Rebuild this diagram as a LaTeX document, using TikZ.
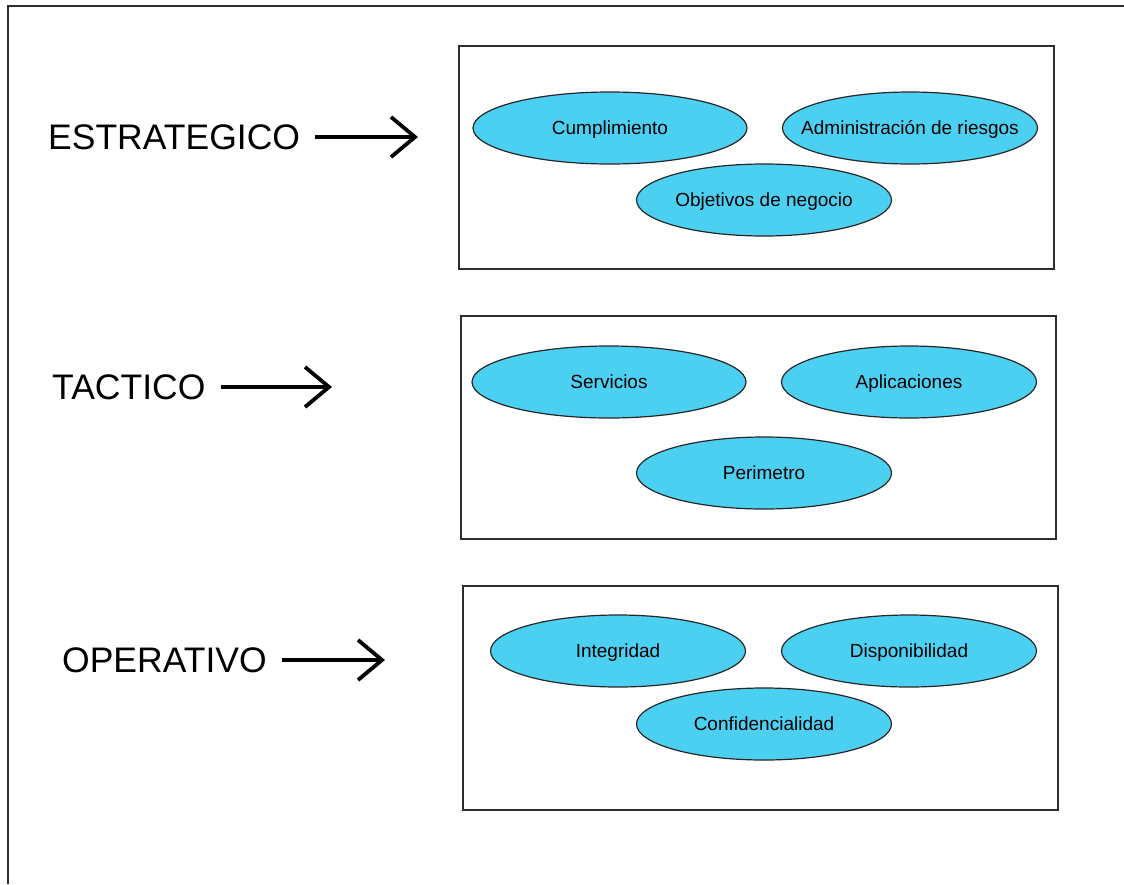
\documentclass[tikz,border=0pt]{standalone}
\usepackage{fontspec}
\setmainfont{Liberation Sans}
\usetikzlibrary{arrows.meta,shapes.geometric}
\definecolor{frameline}{RGB}{45,45,45}
\definecolor{ovalfill}{RGB}{76,208,242}
\tikzset{
  levelbox/.style={draw=frameline, line width=1.6pt},
  oval/.style={ellipse, draw=black!85, line width=1.2pt, fill=ovalfill,
    minimum width=#1, minimum height=72pt, inner sep=-40pt,
    text height=13.5pt, text depth=0pt, font=\fontsize{19}{22}\selectfont},
  oval/.default=255pt,
  levellabel/.style={anchor=west, inner ysep=0pt, inner xsep=0pt,
    font=\fontsize{35.5}{40}\selectfont},
  levelarrow/.style={line width=3.8pt, shorten <=15pt,
    -{Straight Barb[length=24pt, width=40pt, line width=3.8pt]}},
}
\begin{document}
\begin{tikzpicture}[x=1pt, y=-1pt]
  \useasboundingbox (0,0) rectangle (1124,884);
  % outer frame (top and left edges)
  \draw[frameline, line width=1.6pt] (1124,6) -- (8,6) -- (8,884);

  % level boxes
  \draw[levelbox] (459,46) rectangle (1054,269);
  \draw[levelbox] (461,316) rectangle (1056,539);
  \draw[levelbox] (463,586) rectangle (1058,810);

  % strategic level
  \node[oval=274pt] (cumpl) at (610,128) {Cumplimiento};
  \node[oval] (riesgos) at (910,128) {Administración de riesgos};
  \node[oval] (objetivos) at (764,200) {Objetivos de negocio};

  % tactical level
  \node[oval=274pt] (servicios) at (609,382) {Servicios};
  \node[oval] (aplicaciones) at (909,382) {Aplicaciones};
  \node[oval] (perimetro) at (764,473) {Perimetro};

  % operational level
  \node[oval] (integridad) at (618,651) {Integridad};
  \node[oval] (disponib) at (909,651) {Disponibilidad};
  \node[oval] (confid) at (764,724) {Confidencialidad};

  % level labels and arrows
  \node[levellabel] (lblE) at (48,137) {ESTRATEGICO};
  \coordinate (tipE) at (418,137);
  \draw[levelarrow] (lblE.east) -- (tipE);

  \node[levellabel] (lblT) at (52,387) {TACTICO};
  \coordinate (tipT) at (332,387);
  \draw[levelarrow] (lblT.east) -- (tipT);

  \node[levellabel] (lblO) at (62,660) {OPERATIVO};
  \coordinate (tipO) at (385,660);
  \draw[levelarrow] (lblO.east) -- (tipO);
\end{tikzpicture}
\end{document}
